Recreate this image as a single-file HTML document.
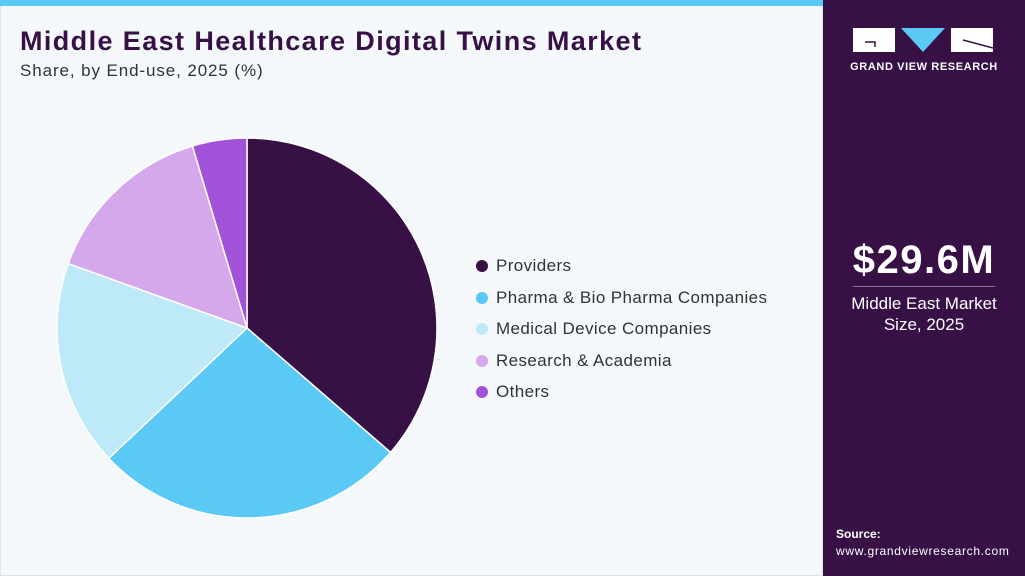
<!DOCTYPE html><html><head><style>
body{margin:0;width:1025px;height:576px;overflow:hidden;font-family:"Liberation Sans",Arial,sans-serif;background:#fff}
.l{position:absolute;left:0;top:0;width:823px;height:576px;background:#f4f8fb;border:1px solid #dde3e8;box-sizing:border-box}
.bar{position:absolute;left:0;top:0;width:823px;height:6px;background:#5bc9f5}
.r{position:absolute;left:823px;top:0;width:202px;height:576px;background:#371046;color:#fff}
h1{position:absolute;left:20px;top:26px;margin:0;font-size:27px;font-weight:900;color:#371046;letter-spacing:1.4px}
.sub{position:absolute;left:20px;top:61px;font-size:17px;color:#333;letter-spacing:0.9px}
.lg{position:absolute;left:476px;font-size:17px;color:#333;letter-spacing:0.4px}
.lg i{display:inline-block;width:12px;height:12px;border-radius:50%;margin-right:8px;vertical-align:-1px}
</style></head><body>
<div class="l"></div><div class="bar"></div>
<h1>Middle East Healthcare Digital Twins Market</h1>
<div class="sub">Share, by End-use, 2025 (%)</div>
<svg style="position:absolute;left:0;top:0" width="823" height="576">
<g stroke="#fff" stroke-width="1.5">
<path d="M247,328 L247,138 A190,190 0 0 1 390.6,452.4Z" fill="#371046"/>
<path d="M247,328 L390.6,452.4 A190,190 0 0 1 108.7,458.3Z" fill="#5bc9f5"/>
<path d="M247,328 L108.7,458.3 A190,190 0 0 1 68.2,263.6Z" fill="#bde9f8"/>
<path d="M247,328 L68.2,263.6 A190,190 0 0 1 192.4,146Z" fill="#d4a8ea"/>
<path d="M247,328 L192.4,146 A190,190 0 0 1 247,138Z" fill="#a152d9"/>
</g></svg>
<div class="lg" style="top:256px"><i style="background:#371046"></i>Providers</div>
<div class="lg" style="top:288px"><i style="background:#5bc9f5"></i>Pharma &amp; Bio Pharma Companies</div>
<div class="lg" style="top:319px"><i style="background:#bde9f8"></i>Medical Device Companies</div>
<div class="lg" style="top:351px"><i style="background:#d4a8ea"></i>Research &amp; Academia</div>
<div class="lg" style="top:382px"><i style="background:#a152d9"></i>Others</div>
<div class="r">
<svg style="position:absolute;left:30px;top:28px" width="142" height="26">
<rect x="0" y="0" width="42" height="24" fill="#fff"/><path d="M12,14 H22 V19" stroke="#371046" stroke-width="1.5" fill="none"/>
<polygon points="48,0 92,0 70,24" fill="#5bc9f5"/>
<rect x="98" y="0" width="42" height="24" fill="#fff"/><path d="M110,12 L140,20" stroke="#371046" stroke-width="1.5"/>
</svg>
<div style="position:absolute;left:0;width:202px;top:61px;text-align:center;font-size:11px;font-weight:700;letter-spacing:0.6px">GRAND VIEW RESEARCH</div>
<div style="position:absolute;left:0;width:202px;top:238px;text-align:center;font-size:40px;font-weight:700;letter-spacing:1.5px">$29.6M</div>
<div style="position:absolute;left:30px;width:142px;top:286px;border-top:1px solid #8a6f96"></div>
<div style="position:absolute;left:0;width:202px;top:293px;text-align:center;font-size:17px;line-height:21px">Middle East Market<br>Size, 2025</div>
<div style="position:absolute;left:13px;top:527px;font-size:12px;font-weight:700">Source:</div>
<div style="position:absolute;left:13px;top:544px;font-size:12px;letter-spacing:0.7px">www.grandviewresearch.com</div>
</div>
</body></html>
